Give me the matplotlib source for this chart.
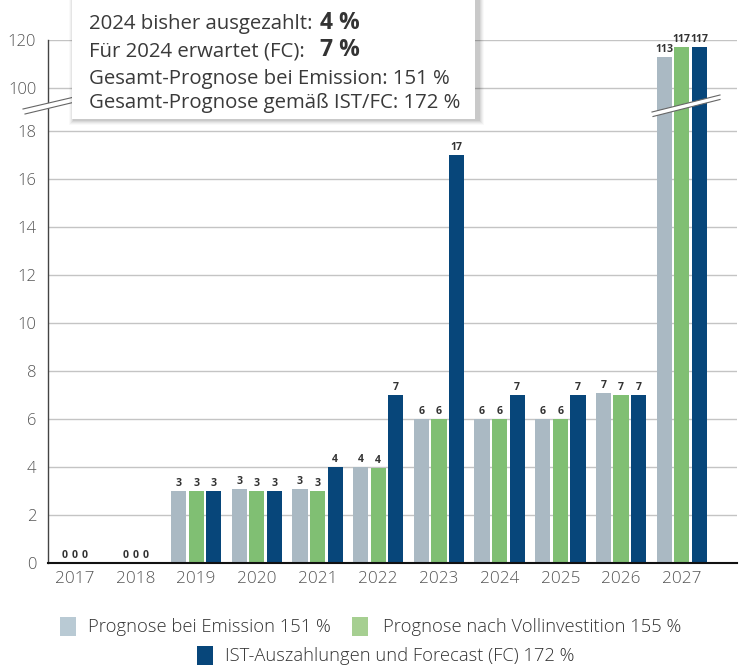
import numpy as np
import matplotlib
matplotlib.use("Agg")
import matplotlib.pyplot as plt
from matplotlib.patches import Rectangle, Polygon
from matplotlib.lines import Line2D

plt.rcParams['font.family'] = ['Open Sans', 'DejaVu Sans']

years = ["2017", "2018", "2019", "2020", "2021", "2022", "2023", "2024", "2025", "2026", "2027"]
emission = [0, 0, 3.0, 3.1, 3.1, 4.0, 6.0, 6.0, 6.0, 7.1, 113]
vollinv = [0, 0, 3.0, 3.0, 3.0, 3.95, 6.0, 6.0, 6.0, 7.0, 117]
ist_fc = [0, 0, 3.0, 3.0, 4.0, 7.0, 17.0, 7.0, 7.0, 7.0, 117]
lab_emission = ["0", "0", "3", "3", "3", "4", "6", "6", "6", "7", "113"]
lab_vollinv = ["0", "0", "3", "3", "3", "4", "6", "6", "6", "7", "117"]
lab_ist = ["0", "0", "3", "3", "4", "7", "17", "7", "7", "7", "117"]
yticks = [0, 2, 4, 6, 8, 10, 12, 14, 16, 18, 100, 120]
series_names = ["Prognose bei Emission 151 %",
                "Prognose nach Vollinvestition 155 %",
                "IST-Auszahlungen und Forecast (FC) 172 %"]
info_lines = [("2024 bisher ausgezahlt:", "4 %"),
              ("Für 2024 erwartet (FC):", "7 %"),
              ("Gesamt-Prognose bei Emission: 151 %", ""),
              ("Gesamt-Prognose gemäß IST/FC: 172 %", "")]

c_bar = ["#aab9c3", "#80bf73", "#07467a"]
c_leg = ["#b9cad4", "#a6cf91", "#07467a"]

W, H = 742, 665


def fwd(v):
    v = np.asarray(v, dtype=float)
    return np.where(v <= 18, v,
                    np.where(v <= 100, 18 + (v - 18) * (1.79 / 82.0),
                             19.79 + (v - 100) * 0.1))


def inv(t):
    t = np.asarray(t, dtype=float)
    return np.where(t <= 18, t,
                    np.where(t <= 19.79, 18 + (t - 18) * (82.0 / 1.79),
                             100 + (t - 19.79) / 0.1))


def fx(px):
    return px / W


def fy(py):
    return 1 - py / H


fig = plt.figure(figsize=(W / 100, H / 100), dpi=100)
ax = fig.add_axes([fx(48), fy(563), (737 - 48) / W, (563 - 40) / H])
ax.set_yscale('function', functions=(fwd, inv))
ax.set_ylim(0, 120)
ax.set_xlim(-0.44, 10.91)

x = np.arange(len(years))
bw = 0.25
off = 0.29
series = [emission, vollinv, ist_fc]
labs = [lab_emission, lab_vollinv, lab_ist]
for k, (vals, lb) in enumerate(zip(series, labs)):
    pos = x + (k - 1) * off
    ax.bar(pos, vals, bw, color=c_bar[k], zorder=2)
    for i, (v, t) in enumerate(zip(vals, lb)):
        lx = x[i] + (k - 1) * (off if v > 0 else 0.165)
        ax.annotate(t, (lx, v), xytext=(0, 1.5), textcoords='offset points',
                    ha='center', va='bottom', fontsize=7.6, fontweight='bold',
                    color='#333333', zorder=3, annotation_clip=False)

ax.set_yticks(yticks)
ax.set_yticklabels([str(t) for t in yticks])
ax.set_xticks(x)
ax.set_xticklabels(years)
ax.yaxis.grid(True, color='#c4c4c4', lw=1)
ax.set_axisbelow(True)
ax.tick_params(axis='y', length=0, pad=8.5, labelsize=12, labelcolor='#555555')
ax.tick_params(axis='x', length=0, pad=6, labelsize=12.3, labelcolor='#555555')
for lbl in ax.get_xticklabels() + ax.get_yticklabels():
    lbl.set_fontweight('light')
for s in ['top', 'right']:
    ax.spines[s].set_visible(False)
ax.spines['left'].set_color('#444444')
ax.spines['left'].set_linewidth(1)
ax.spines['bottom'].set_color('#111111')
ax.spines['bottom'].set_linewidth(1.5)


def brk(p_up0, p_up1, p_lo0, p_lo1):
    poly = Polygon([(fx(p_up0[0]), fy(p_up0[1])), (fx(p_up1[0]), fy(p_up1[1])),
                    (fx(p_lo1[0]), fy(p_lo1[1])), (fx(p_lo0[0]), fy(p_lo0[1]))],
                   closed=True, facecolor='white', edgecolor='none',
                   transform=fig.transFigure, zorder=5)
    fig.add_artist(poly)
    for a, b in [(p_up0, p_up1), (p_lo0, p_lo1)]:
        fig.add_artist(Line2D([fx(a[0]), fx(b[0])], [fy(a[1]), fy(b[1])],
                              color='#666666', lw=0.8, transform=fig.transFigure,
                              zorder=6))


brk((23, 109), (100, 91), (25, 114), (100, 96))
brk((652, 112), (720, 95), (653, 116.5), (720, 99.5))

# info box with soft shadow
bx0, by0, bx1, by1 = 72, 0, 475, 119
for i, a in enumerate([0.025, 0.035, 0.045, 0.055, 0.065]):
    d = 6 - i
    fig.add_artist(Rectangle((fx(bx0 - d + 3), fy(by1 + d)),
                             (bx1 - bx0 + 2 * d) / W, (by1 - by0 + 2 * d) / H,
                             transform=fig.transFigure, facecolor='black',
                             edgecolor='none', alpha=a, zorder=7))
fig.add_artist(Rectangle((fx(bx0), fy(by1)), (bx1 - bx0) / W, (by1 - by0) / H,
                         transform=fig.transFigure, facecolor='white',
                         edgecolor='none', zorder=8))

baselines = [29, 56, 84, 108]
for (reg, bold), yb in zip(info_lines, baselines):
    fig.text(fx(89), fy(yb), reg, fontsize=14.7, color='#3a3a3a',
             va='baseline', ha='left', zorder=9)
    if bold:
        fig.text(fx(320), fy(yb), bold, fontsize=16.5, fontweight='bold',
                 color='#333333', va='baseline', ha='left', zorder=9)

# legend
leg = [((60, 617), (88, 626.5)), ((352, 617), (383, 626.5)), ((197, 646), (225, 656))]
for k, ((sx, sy), (tx, ty)) in enumerate(leg):
    fig.add_artist(Rectangle((fx(sx), fy(sy + 19)), 16 / W, 19 / H,
                             transform=fig.transFigure, facecolor=c_leg[k],
                             edgecolor='none'))
    fig.text(fx(tx), fy(ty), series_names[k], fontsize=13.2, color='#333333',
             va='center', ha='left', fontweight='light')

fig.savefig("out.png", dpi=100)
